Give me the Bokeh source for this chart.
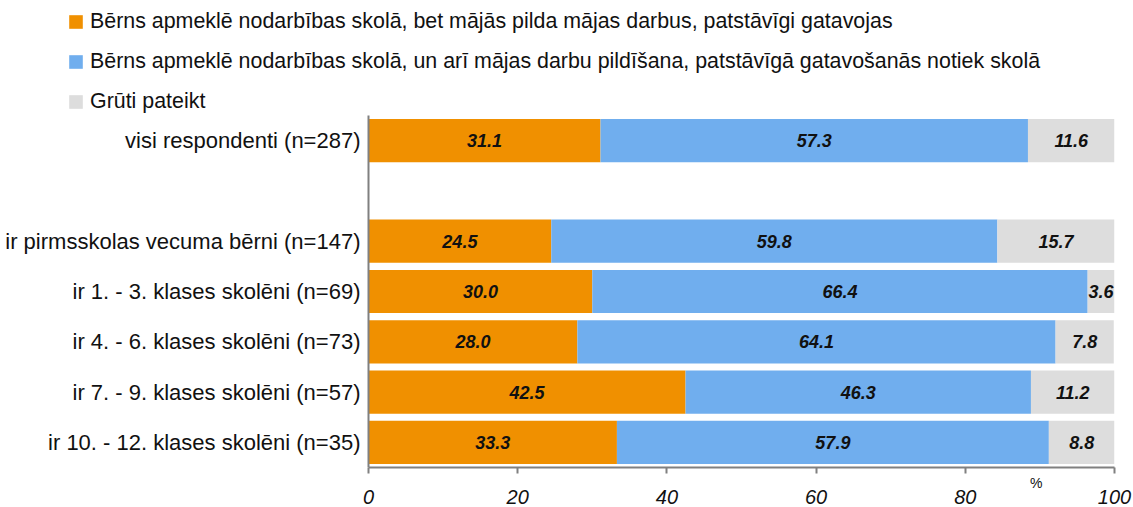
from bokeh.plotting import figure
from bokeh.models import (Range1d, ColumnDataSource, Legend, LegendItem,
                          FixedTicker, LabelSet, LinearAxis)
from bokeh.core.properties import value
from bokeh.embed import file_html
from bokeh.resources import INLINE

# ---------------- data ----------------
categories = [
    "visi respondenti (n=287)",
    "",
    "ir pirmsskolas vecuma bērni (n=147)",
    "ir 1. - 3. klases skolēni (n=69)",
    "ir 4. - 6. klases skolēni (n=73)",
    "ir 7. - 9. klases skolēni (n=57)",
    "ir 10. - 12. klases skolēni (n=35)",
]
series_names = [
    "Bērns apmeklē nodarbības skolā, bet mājās pilda mājas darbus, patstāvīgi gatavojas",
    "Bērns apmeklē nodarbības skolā, un arī mājas darbu pildīšana, patstāvīgā gatavošanās notiek skolā",
    "Grūti pateikt",
]
s_home = [31.1, 24.5, 30.0, 28.0, 42.5, 33.3]
s_school = [57.3, 59.8, 66.4, 64.1, 46.3, 57.9]
s_hard = [11.6, 15.7, 3.6, 7.8, 11.2, 8.8]
x_ticks = [0, 20, 40, 60, 80, 100]
unit_label = "%"
unit_pos = 89.5

colors = ["#F09000", "#70AEEE", "#DDDDDD"]
FONT = "Liberation Sans"
TXT = "#111111"
AX = "#808080"

# ---------------- layout constants (pixels) ----------------
W, H = 1133, 507
LEFT_PX = 368          # where x = 0 sits
RIGHT_BORDER = 19
BOTTOM_BORDER = 40
TOP_ROWS_PX = 115      # space above the bars for the legend
frame_w = W - RIGHT_BORDER
frame_h = H - BOTTOM_BORDER
n = len(categories)
row_px = (frame_h - TOP_ROWS_PX) / n

# row positions (top row has highest value)
row_pos = {c: n - 1 - i for i, c in enumerate(categories)}
bar_y = [row_pos[c] for c in categories if c]

x_start = -100 * LEFT_PX / (frame_w - LEFT_PX)
y_start = -0.5
y_end = -0.5 + frame_h / row_px

p = figure(
    width=W, height=H,
    x_range=Range1d(x_start, 100), y_range=Range1d(y_start, y_end),
    y_axis_type=None,
    output_backend="svg", toolbar_location=None,
    min_border_left=0, min_border_right=RIGHT_BORDER, min_border_top=0,
    min_border_bottom=BOTTOM_BORDER,
)
p.outline_line_color = None
p.xgrid.visible = False

src = ColumnDataSource(dict(y=bar_y, home=s_home, school=s_school, hard=s_hard))
renderers = p.hbar_stack(["home", "school", "hard"], y="y", height=0.86, source=src,
                         color=colors, line_color=None)

# value labels centred in segments
left = [0.0] * len(bar_y)
for vals in [s_home, s_school, s_hard]:
    mids = [l + v / 2 for l, v in zip(left, vals)]
    lsrc = ColumnDataSource(dict(x=mids, y=bar_y, t=["%.1f" % v for v in vals]))
    p.add_layout(LabelSet(x="x", y="y", text="t", source=lsrc,
                          text_align="center", text_baseline="middle",
                          text_font=value(FONT), text_font_size="18px",
                          text_font_style="bold italic", text_color=TXT))
    left = [l + v for l, v in zip(left, vals)]

# category axis, pinned at x = 0
yax = LinearAxis(ticker=FixedTicker(ticks=sorted(row_pos.values())),
                 major_label_overrides={v: c for c, v in row_pos.items()},
                 fixed_location=0, bounds=(-0.5, n - 0.5))
yax.axis_line_color = AX
yax.axis_line_width = 2
yax.major_tick_line_color = None
yax.minor_tick_line_color = None
yax.major_tick_out = 0
yax.major_tick_in = 0
yax.major_label_standoff = 8
yax.major_label_text_font = FONT
yax.major_label_text_font_size = "22px"
yax.major_label_text_color = TXT
p.add_layout(yax, "left")

# axis next to the frame: line, ticks (drawn as minor ticks) and the unit sign
ax = p.xaxis[0]
ax.bounds = (0, 100)
ax.ticker = FixedTicker(ticks=[unit_pos], minor_ticks=x_ticks)
ax.major_label_overrides = {unit_pos: unit_label}
ax.axis_line_color = AX
ax.axis_line_width = 2
ax.major_tick_line_color = None
ax.major_tick_out = 0
ax.major_tick_in = 0
ax.minor_tick_line_color = AX
ax.minor_tick_line_width = 2
ax.minor_tick_out = 6
ax.minor_tick_in = 0
ax.major_label_standoff = 1
ax.major_label_text_font = FONT
ax.major_label_text_font_size = "14px"
ax.major_label_text_color = TXT

# tick value labels
ax2 = LinearAxis(ticker=FixedTicker(ticks=x_ticks))
ax2.axis_line_color = None
ax2.major_tick_line_color = None
ax2.minor_tick_line_color = None
ax2.major_tick_out = 0
ax2.major_tick_in = 0
ax2.major_label_standoff = -4
ax2.major_label_text_font = FONT
ax2.major_label_text_font_size = "20px"
ax2.major_label_text_font_style = "italic"
ax2.major_label_text_color = TXT
p.add_layout(ax2, "below")

# legend (inside the frame, above the bars)
legend = Legend(
    items=[LegendItem(label=s, renderers=[r]) for s, r in zip(series_names, renderers)],
    location=(67, frame_h - 114), orientation="vertical",
    glyph_width=17, glyph_height=17, label_standoff=6,
    label_text_font=FONT, label_text_font_size="21.4px", label_text_color=TXT,
    label_height=20, spacing=15, padding=0, margin=0,
    border_line_color=None, background_fill_alpha=0,
)
p.add_layout(legend)

open("out.html", "w").write(file_html(p, INLINE))
